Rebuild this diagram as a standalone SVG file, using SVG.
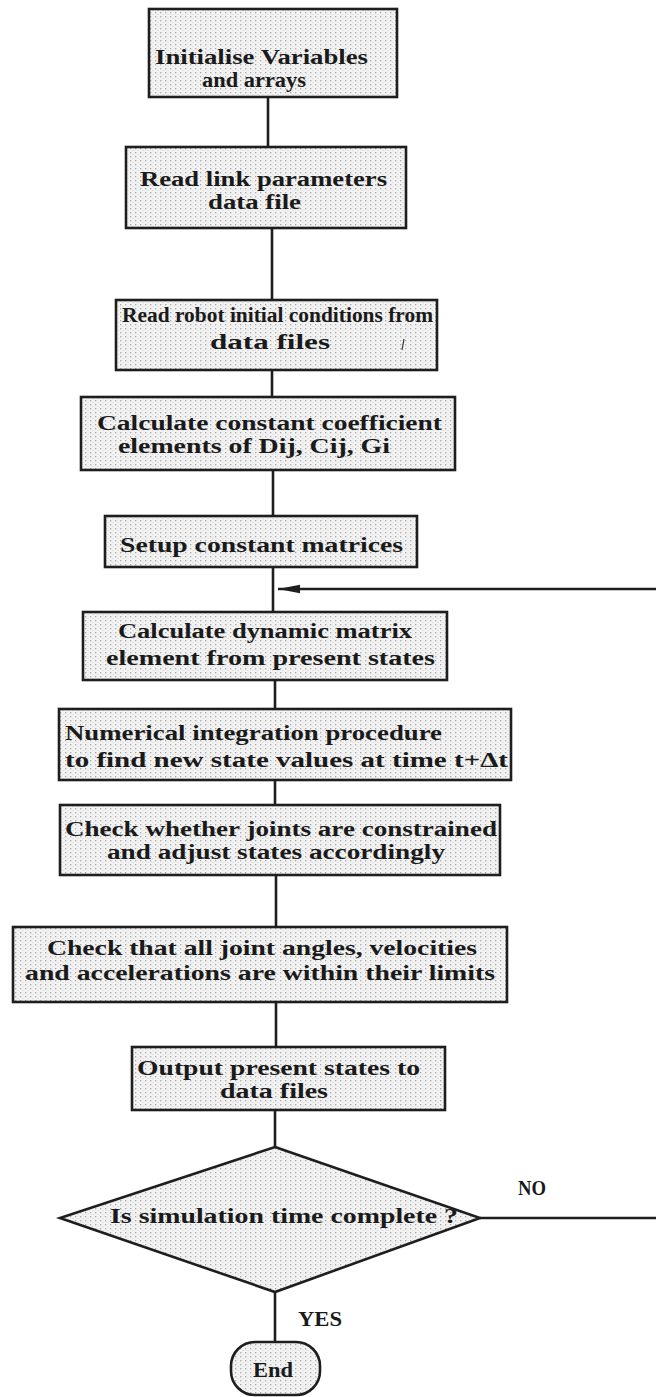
<svg xmlns="http://www.w3.org/2000/svg" width="656" height="1397" viewBox="0 0 656 1397">
  <style>
    .box { fill: url(#stipple); stroke: #1e1e1e; stroke-width: 2.6; }
    .wire { fill: none; stroke: #1e1e1e; stroke-width: 2.6; }
    .txt { font-family: "Liberation Serif", "Times New Roman", serif; font-weight: bold; font-size: 20px; fill: #1a1a1a; }
    .lbl { font-family: "Liberation Serif", "Times New Roman", serif; font-weight: bold; font-size: 21px; fill: #1a1a1a; }
  </style>
  <defs>
    <!-- dotted grey screen used as the box fill -->
    <pattern id="stipple" width="5" height="4" patternUnits="userSpaceOnUse">
      <rect width="5" height="4" fill="#f3f3f3"/>
      <rect x="0" y="0" width="1.3" height="1.3" fill="#a8a8a8"/>
      <rect x="2.5" y="2" width="1" height="1" fill="#cfcfcf"/>
    </pattern>
    <marker id="arrow" markerWidth="22" markerHeight="10" refX="22" refY="5" orient="auto" markerUnits="userSpaceOnUse">
      <path d="M22,5 L0,0.8 L0,9.2 Z" fill="#1e1e1e"/>
    </marker>
  </defs>

  <rect width="656" height="1397" fill="#ffffff"/>

  <!-- connectors -->
  <g id="connectors">
    <line class="wire" x1="268" y1="97" x2="268" y2="147"/>
    <line class="wire" x1="272" y1="228" x2="272" y2="300"/>
    <line class="wire" x1="272" y1="370" x2="272" y2="397"/>
    <line class="wire" x1="273" y1="470" x2="273" y2="516"/>
    <line class="wire" x1="273" y1="567" x2="273" y2="612"/>
    <line class="wire" x1="275" y1="680" x2="275" y2="709"/>
    <line class="wire" x1="275" y1="780" x2="275" y2="805"/>
    <line class="wire" x1="276" y1="875" x2="276" y2="927"/>
    <line class="wire" x1="276" y1="1002" x2="276" y2="1047"/>
    <line class="wire" x1="275" y1="1110" x2="275" y2="1147"/>
    <line class="wire" x1="275" y1="1292" x2="275" y2="1342"/>
    <!-- loop back: NO branch leaves the diamond to the right, returns above the dynamics step -->
    <line class="wire" x1="480" y1="1218" x2="656" y2="1218"/>
    <line class="wire" x1="656" y1="589" x2="278" y2="589" stroke-width="2" marker-end="url(#arrow)"/>
    <text class="lbl" x="532" y="1195" text-anchor="middle" textLength="28" lengthAdjust="spacingAndGlyphs">NO</text>
    <text class="lbl" x="320" y="1326" text-anchor="middle" textLength="44" lengthAdjust="spacingAndGlyphs">YES</text>
  </g>

  <g id="init">
    <rect class="box" x="149" y="9" width="248" height="88"/>
    <text class="txt" x="155" y="64" textLength="213" lengthAdjust="spacingAndGlyphs">Initialise Variables</text>
    <text class="txt" x="202" y="87" textLength="104" lengthAdjust="spacingAndGlyphs">and arrays</text>
  </g>

  <g id="read-link">
    <rect class="box" x="126" y="147" width="280" height="81"/>
    <text class="txt" x="140" y="186" textLength="247" lengthAdjust="spacingAndGlyphs">Read link parameters</text>
    <text class="txt" x="208" y="209" textLength="93" lengthAdjust="spacingAndGlyphs">data file</text>
  </g>

  <g id="read-initial">
    <rect class="box" x="116" y="300" width="321" height="70"/>
    <text class="txt" x="122" y="322" textLength="311" lengthAdjust="spacingAndGlyphs">Read robot initial conditions from</text>
    <text class="txt" x="210" y="349" textLength="120" lengthAdjust="spacingAndGlyphs">data files</text>
    <line x1="404" y1="339" x2="402" y2="350" stroke="#333" stroke-width="1.2"/>
  </g>

  <g id="const-coeff">
    <rect class="box" x="81" y="397" width="374" height="73"/>
    <text class="txt" x="97" y="430" textLength="345" lengthAdjust="spacingAndGlyphs">Calculate constant coefficient</text>
    <text class="txt" x="118" y="453" textLength="272" lengthAdjust="spacingAndGlyphs">elements of Dij, Cij, Gi</text>
  </g>

  <g id="const-matrices">
    <rect class="box" x="105" y="516" width="312" height="51"/>
    <text class="txt" x="120" y="552" textLength="283" lengthAdjust="spacingAndGlyphs">Setup constant matrices</text>
  </g>

  <g id="dyn-matrix">
    <rect class="box" x="83" y="612" width="364" height="68"/>
    <text class="txt" x="118" y="638" textLength="294" lengthAdjust="spacingAndGlyphs">Calculate dynamic matrix</text>
    <text class="txt" x="106" y="665" textLength="329" lengthAdjust="spacingAndGlyphs">element from present states</text>
  </g>

  <g id="integrate">
    <rect class="box" x="59" y="709" width="452" height="71"/>
    <text class="txt" x="65" y="740" textLength="377" lengthAdjust="spacingAndGlyphs">Numerical integration procedure</text>
    <text class="txt" x="65" y="767" textLength="443" lengthAdjust="spacingAndGlyphs">to find new state values at time t+Δt</text>
  </g>

  <g id="constraints">
    <rect class="box" x="60" y="805" width="440" height="70"/>
    <text class="txt" x="65" y="836" textLength="432" lengthAdjust="spacingAndGlyphs">Check whether joints are constrained</text>
    <text class="txt" x="107" y="859" textLength="338" lengthAdjust="spacingAndGlyphs">and adjust states accordingly</text>
  </g>

  <g id="limits">
    <rect class="box" x="13" y="927" width="494" height="75"/>
    <text class="txt" x="47" y="955" textLength="430" lengthAdjust="spacingAndGlyphs">Check that all joint angles, velocities</text>
    <text class="txt" x="25" y="980" textLength="470" lengthAdjust="spacingAndGlyphs">and accelerations are within their limits</text>
  </g>

  <g id="output">
    <rect class="box" x="132" y="1047" width="313" height="63"/>
    <text class="txt" x="137" y="1075" textLength="283" lengthAdjust="spacingAndGlyphs">Output present states to</text>
    <text class="txt" x="220" y="1098" textLength="108" lengthAdjust="spacingAndGlyphs">data files</text>
  </g>

  <g id="time-check">
    <polygon class="box" points="275,1147 480,1218 275,1292 60,1218"/>
    <text class="txt" x="110" y="1223" textLength="348" lengthAdjust="spacingAndGlyphs">Is simulation time complete ?</text>
  </g>

  <g id="end">
    <rect class="box" x="231" y="1342" width="89" height="53" rx="24" ry="24"/>
    <text class="txt" x="253" y="1377" textLength="40" lengthAdjust="spacingAndGlyphs">End</text>
  </g>
</svg>
